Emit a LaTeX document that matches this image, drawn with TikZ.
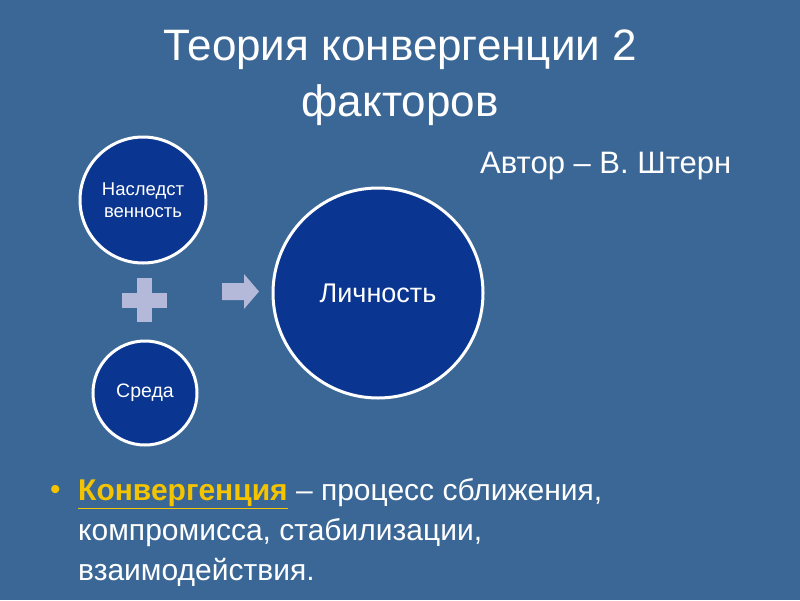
\documentclass[tikz,border=0pt]{standalone}
\usepackage{fontspec}
\setmainfont{Liberation Sans}
\definecolor{bg}{HTML}{3B6796}
\definecolor{cfill}{HTML}{0A3590}
\definecolor{sym}{HTML}{B5B9D9}
\definecolor{ylw}{HTML}{F5C400}
\begin{document}
\begin{tikzpicture}[x=1pt,y=-1pt,
  circ/.style={circle,draw=white,line width=3pt,fill=cfill,text=white,align=center,inner sep=0pt},
  txt/.style={text=white,inner sep=0pt}]
\fill[bg] (0,0) rectangle (800,600);
\useasboundingbox (0,0) rectangle (800,600);
\node[txt,align=center,font=\fontsize{44}{56}\selectfont] (title) at (400,78) {Теория конвергенции 2\\факторов};
\node[txt,anchor=west,font=\fontsize{31}{36}\selectfont] (author) at (480,166) {Автор – В. Штерн};
\node[circ,minimum size=126pt,font=\fontsize{18.5}{22}\selectfont] (h) at (143,200) {Наследст\\венность};
\node[circ,minimum size=104pt,font=\fontsize{19.5}{22}\selectfont] (s) at (145,393) {Среда};
\node[circ,minimum size=210pt,font=\fontsize{27}{30}\selectfont] (l) at (378,293) {Личность};
\fill[sym] (122,293) rectangle (167,308);
\fill[sym] (137,278) rectangle (152,322);
\fill[sym] (222,283) -- (244,283) -- (244,274) -- (259,291.5) -- (244,309) -- (244,300) -- (222,300) -- cycle;
\node[anchor=west,text=ylw,inner sep=0pt,font=\fontsize{30}{36}\selectfont] (bul) at (50,492) {•};
\node[txt,anchor=north west,align=left,font=\fontsize{30}{40}\selectfont] (def) at (78,478)
 {{\color{ylw}\bfseries\underline{Конвергенция}} – процесс сближения,\\компромисса, стабилизации,\\взаимодействия.};
\end{tikzpicture}
\end{document}
